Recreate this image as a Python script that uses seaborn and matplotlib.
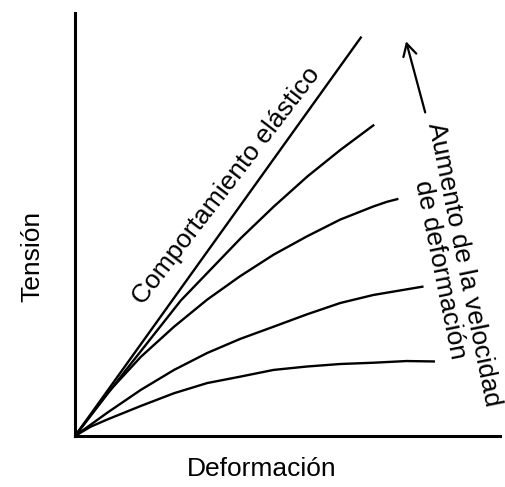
import matplotlib
matplotlib.use("Agg")
import matplotlib.pyplot as plt
import seaborn as sns
import pandas as pd
from matplotlib.patches import FancyArrowPatch

# ---- data (strain, stress; arbitrary units 0..10) ----
elastic_x = [0, 6.74]
elastic_y = [0, 9.43]

c2_x = [0, 1.2, 2.49, 3.90, 4.68, 5.47, 6.25, 7.04]
c2_y = [0, 1.56, 3.20, 4.67, 5.42, 6.13, 6.76, 7.35]

c3_x = [0, 0.76, 1.55, 2.33, 3.11, 3.88, 4.67, 5.45, 6.24, 7.02, 7.34, 7.61]
c3_y = [0, 1.01, 1.87, 2.58, 3.22, 3.77, 4.28, 4.71, 5.11, 5.42, 5.53, 5.60]

c4_x = [0, 0.76, 1.55, 2.33, 3.11, 3.88, 4.67, 5.45, 6.24, 7.02, 8.20]
c4_y = [0, 0.55, 1.09, 1.56, 1.96, 2.29, 2.58, 2.87, 3.14, 3.33, 3.53]

c5_x = [0, 0.37, 0.76, 1.55, 2.33, 3.11, 3.88, 4.67, 5.45, 6.24, 7.02, 7.80, 8.47]
c5_y = [0, 0.22, 0.39, 0.71, 1.01, 1.25, 1.40, 1.56, 1.64, 1.70, 1.73, 1.77, 1.76]

x_label = "Deformación"
y_label = "Tensión"
elastic_label = "Comportamiento elástico"
rate_label = "Aumento de la velocidad\nde deformación"

# ---- build a long table ----
frames = []
for name, xs, ys in [("elastic", elastic_x, elastic_y), ("c2", c2_x, c2_y),
                     ("c3", c3_x, c3_y), ("c4", c4_x, c4_y), ("c5", c5_x, c5_y)]:
    frames.append(pd.DataFrame({"curve": name, "x": xs, "y": ys}))
df = pd.concat(frames, ignore_index=True)

sns.set_theme(style="white")
plt.rcParams["font.family"] = ["Liberation Sans", "DejaVu Sans"]

W, H = 505, 487
fig = plt.figure(figsize=(W / 100, H / 100), dpi=100)
ax = fig.add_axes([75 / W, (H - 436) / H, 425 / W, 423.5 / H])

sns.lineplot(data=df, x="x", y="y", units="curve", estimator=None, sort=False,
             color="black", linewidth=1.7, ax=ax, legend=False)
for ln in ax.lines:
    ln.set_solid_joinstyle("round")
    ln.set_solid_capstyle("butt")

ax.set_xlim(0, 10)
ax.set_ylim(0, 10)
ax.set_xticks([])
ax.set_yticks([])
for s in ["top", "right"]:
    ax.spines[s].set_visible(False)
for s in ["left", "bottom"]:
    ax.spines[s].set_color("black")
    ax.spines[s].set_linewidth(2.2)

fs = 19
ax.set_xlabel(x_label, fontsize=fs, color="black")
ax.set_ylabel(y_label, fontsize=fs, color="black")
ax.xaxis.set_label_coords((262 - 75) / 425, (436 - 469) / 423.5)
ax.yaxis.set_label_coords((32 - 75) / 425, (436 - 256) / 423.5)
ax.xaxis.label.set_va("center")
ax.yaxis.label.set_va("center")

ax.text(3.55, 5.9, elastic_label, fontsize=fs, rotation=52.5,
        rotation_mode="anchor", ha="center", va="center", color="black")

ax.text(8.87, 3.99, rate_label, fontsize=fs, rotation=-78.5,
        rotation_mode="anchor", ha="center", va="center",
        multialignment="center", color="black", clip_on=False,
        linespacing=1.0)

arrow = FancyArrowPatch((8.24, 7.64), (7.79, 9.32), arrowstyle="->,head_length=0.55,head_width=0.3",
                        mutation_scale=16, color="black", linewidth=1.6,
                        shrinkA=0, shrinkB=0, clip_on=False)
ax.add_patch(arrow)

fig.savefig("out.png", dpi=100, facecolor="white")
